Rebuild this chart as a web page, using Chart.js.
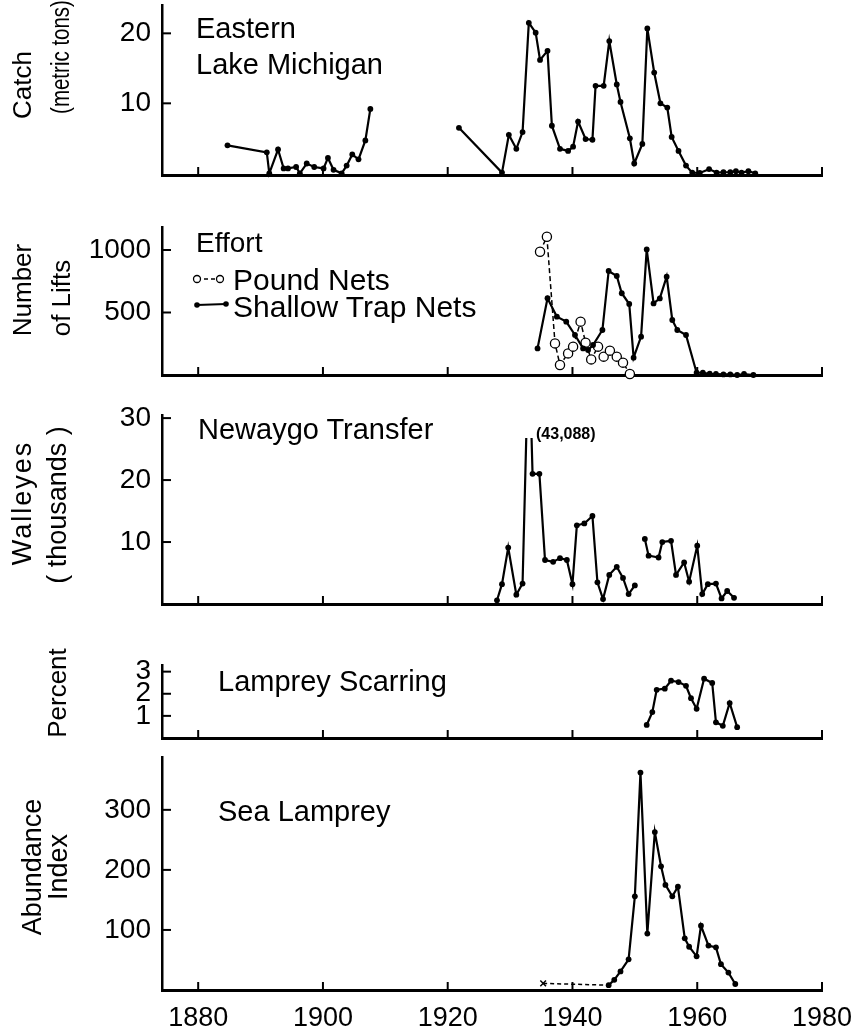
<!DOCTYPE html>
<html>
<head>
<meta charset="utf-8">
<title>Lake Michigan walleye and sea lamprey</title>
<script src="https://cdn.jsdelivr.net/npm/chart.js@4.4.1/dist/chart.umd.min.js"></script>
<style>
  body { margin: 0; background: #fff; width: 859px; height: 1033px; position: relative; overflow: hidden;
         font-family: 'Liberation Sans', Arial, sans-serif; color: #000; }
  canvas { position: absolute; left: 0; }
  .txt { position: absolute; white-space: nowrap; line-height: 1; }
  .rot { position: absolute; white-space: nowrap; line-height: 1; font-size: 26px;
         transform: translate(-50%, -50%) rotate(-90deg); }
</style>
</head>
<body>
<canvas id="catchChart" width="859" height="198" style="top:-15px"></canvas>
<canvas id="effortChart" width="859" height="176" style="top:207px"></canvas>
<canvas id="walleyeChart" width="859" height="217" style="top:395px"></canvas>
<canvas id="scarChart" width="859" height="101" style="top:645px"></canvas>
<canvas id="lampreyChart" width="859" height="296" style="top:737px"></canvas>

<!-- axis titles -->
<div class="rot" style="left:22px;top:85px">Catch</div>
<div class="rot" style="left:60px;top:57px;font-size:25px;transform:translate(-50%,-50%) rotate(-90deg) scaleX(0.82)">(metric tons)</div>
<div class="rot" style="left:22px;top:290px">Number</div>
<div class="rot" style="left:61px;top:298px">of Lifts</div>
<div class="rot" style="left:22px;top:503px;font-size:27px;letter-spacing:2px">Walleyes</div>
<div class="rot" style="left:57px;top:505px;font-size:27px">( thousands )</div>
<div class="rot" style="left:57px;top:693px">Percent</div>
<div class="rot" style="left:32px;top:867px;font-size:27px">Abundance</div>
<div class="rot" style="left:58px;top:867px;font-size:27px">Index</div>

<!-- panel labels -->
<div class="txt" style="left:196px;top:14px;font-size:29px">Eastern</div>
<div class="txt" style="left:196px;top:50px;font-size:29px">Lake Michigan</div>
<div class="txt" style="left:196px;top:229px;font-size:28px">Effort</div>
<div class="txt" style="left:233px;top:265px;font-size:30px">Pound Nets</div>
<div class="txt" style="left:233px;top:292px;font-size:30px">Shallow Trap Nets</div>
<svg style="position:absolute;left:188px;top:268px" width="46" height="46">
  <line x1="9" y1="11" x2="32" y2="11" stroke="#000" stroke-width="1.5" stroke-dasharray="4,3"/>
  <circle cx="9" cy="11" r="3.5" fill="#fff" stroke="#000" stroke-width="1.3"/>
  <circle cx="32" cy="11" r="3.5" fill="#fff" stroke="#000" stroke-width="1.3"/>
  <line x1="9" y1="37" x2="38" y2="36" stroke="#000" stroke-width="2.2"/>
  <circle cx="9" cy="37" r="2.8" fill="#000"/>
  <circle cx="38" cy="36" r="2.8" fill="#000"/>
</svg>
<div class="txt" style="left:198px;top:415px;font-size:29px">Newaygo Transfer</div>
<div class="txt" style="left:536px;top:426px;font-size:16px;font-weight:bold">(43,088)</div>
<div class="txt" style="left:218px;top:667px;font-size:29px">Lamprey Scarring</div>
<div class="txt" style="left:218px;top:797px;font-size:29px">Sea Lamprey</div>

<script>
// shared x axis (years)
const xMin = 1874.2, xMax = 1980;
const yearTicks = [1880, 1900, 1920, 1940, 1960, 1980];

// Catch, eastern Lake Michigan (metric tons)
const catchYears = [1884.7, 1891.0, 1891.4, 1892.8, 1893.7, 1894.4, 1895.7, 1896.3, 1897.4, 1898.6, 1900.1,
  1900.8, 1901.7, 1903.0, 1903.8, 1904.7, 1905.7, 1906.8, 1907.6, 1915,
  1921.8, 1928.7, 1929.8, 1931.0, 1932.0, 1933.0, 1934.1, 1934.8, 1936.0, 1936.7, 1938.0, 1939.3, 1940.1,
  1940.9, 1942.1, 1943.2, 1943.7, 1945.0, 1945.9, 1947.1, 1947.7, 1949.2, 1949.9, 1951.2, 1952.0, 1953.1,
  1954.1, 1955.2, 1955.9, 1957.0, 1958.2, 1959.2, 1960.4, 1961.9, 1963.1, 1964.2, 1965.3, 1966.2, 1967.1,
  1968.2, 1969.3];
const catchValues = [4.0, 3.0, 0.0, 3.4, 0.7, 0.7, 0.9, 0.0, 1.4, 0.9, 0.7,
  2.2, 0.5, 0.0, 1.1, 2.7, 2.0, 4.7, 9.2, null,
  6.5, 0.1, 5.5, 3.5, 5.9, 21.5, 20.1, 16.2, 17.5, 6.8, 3.5, 3.2, 3.8,
  7.4, 4.9, 4.8, 12.5, 12.5, 18.9, 12.7, 10.2, 5.0, 1.4, 4.2, 20.7, 14.4,
  10.0, 9.4, 5.2, 3.2, 1.1, 0.1, 0.05, 0.6, 0.1, 0.15, 0.15, 0.3, 0.1,
  0.3, 0.0];
const catchTicks = [10, 20];

// Effort (number of lifts)
const poundYears = [1934.8, 1935.9, 1937.2, 1938.0, 1939.3, 1940.1, 1941.3, 1942.1, 1943.0, 1944.1, 1945.0,
  1946.0, 1947.1, 1948.1, 1949.2];
const poundValues = [986, 1106, 253, 80, 173, 227, 427, 259, 125, 227, 147, 195, 147, 99, 8];
const trapYears = [1934.4, 1936.0, 1937.5, 1939.0, 1940.4, 1941.7, 1942.5, 1943.3, 1944.8, 1945.8, 1947.1,
  1947.9, 1949.1, 1949.8, 1951.0, 1951.9, 1953.0, 1954.0, 1955.1, 1956.0, 1956.8, 1958.2, 1959.9, 1960.9,
  1962.0, 1963.0, 1964.2, 1965.3, 1966.4, 1967.5, 1969.0];
const trapValues = [213, 614, 467, 427, 320, 213, 200, 240, 360, 832, 792,
  654, 568, 139, 307, 1005, 573, 613, 787, 440, 360, 320, 18, 18,
  10, 8, 5, 5, 0, 8, 0];
const effortTicks = [500, 1000];

// Newaygo transfer (walleyes, thousands); 1933 is off scale (43,088)
const walleyeYears = [1927.9, 1928.7, 1929.7, 1931.0, 1932.0, 1933.0, 1933.6, 1934.7, 1935.6, 1936.9, 1938.0,
  1939.1, 1940.0, 1940.7, 1941.9, 1943.2, 1944.0, 1944.9, 1945.9, 1947.1, 1948.1, 1949.0, 1950.0, 1951,
  1951.6, 1952.2, 1953.8, 1954.4, 1955.8, 1956.6, 1957.9, 1958.7, 1960.0, 1960.8, 1961.7, 1963.0, 1963.9,
  1964.8, 1965.9];
const walleyeValues = [0.6, 3.2, 9.1, 1.5, 3.3, 43.088, 21.0, 21.0, 7.1, 6.8, 7.4,
  7.1, 3.2, 12.7, 13.0, 14.2, 3.5, 0.8, 4.7, 6.0, 4.2, 1.6, 3.0, null,
  10.5, 7.8, 7.5, 10.0, 10.2, 4.7, 6.7, 3.6, 9.4, 1.6, 3.2, 3.3, 0.9,
  2.1, 1.0];
const walleyeTicks = [10, 20, 30];

// Lamprey scarring (percent)
const scarYears = [1951.9, 1952.8, 1953.5, 1954.8, 1955.8, 1957.0, 1958.2, 1959.0, 1959.9, 1961.1, 1962.4,
  1963.0, 1964.1, 1965.2, 1966.4];
const scarValues = [0.59, 1.17, 2.18, 2.23, 2.59, 2.53, 2.36, 1.8, 1.32, 2.68, 2.49, 0.71, 0.55, 1.58, 0.49];
const scarTicks = [1, 2, 3];

// Sea lamprey abundance index
const lowYears = [1935.3, 1945.8];
const lowValues = [11, 8];
const lampreyYears = [1945.8, 1946.7, 1947.7, 1949.0, 1950.0, 1950.9, 1952.0, 1953.2, 1954.2, 1954.9, 1956.0,
  1956.9, 1958.0, 1958.7, 1959.9, 1960.6, 1961.8, 1963.0, 1963.8, 1965.0, 1966.1];
const lampreyValues = [8, 17, 31, 51, 156, 362, 94, 263, 206, 175, 156,
  172, 86, 72, 56, 107, 74, 71, 43, 29, 10];
const lampreyTicks = [100, 200, 300];

Chart.defaults.font.family = "'Liberation Sans', Arial, sans-serif";
Chart.defaults.color = '#000';

// short tick marks drawn inward from the axes
const innerTicks = {
    id: 'innerTicks',
    afterDatasetsDraw(chart, args, opts) {
        const { ctx, chartArea, scales } = chart;
        ctx.save();
        ctx.strokeStyle = '#000';
        ctx.lineWidth = 2;
        yearTicks.forEach(v => {
            const px = scales.x.getPixelForValue(v);
            ctx.beginPath();
            ctx.moveTo(px, chartArea.bottom);
            ctx.lineTo(px, chartArea.bottom - 8);
            ctx.stroke();
        });
        (opts.y || []).forEach(v => {
            const py = scales.y.getPixelForValue(v);
            ctx.beginPath();
            ctx.moveTo(chartArea.left, py);
            ctx.lineTo(chartArea.left + 9, py);
            ctx.stroke();
        });
        ctx.restore();
    }
};

function pts(xs, ys) {
    return xs.map((x, i) => ({ x: x, y: ys[i] }));
}

function solidLine(xs, ys) {
    return {
        data: pts(xs, ys),
        borderColor: '#000',
        borderWidth: 2.2,
        pointRadius: 2.9,
        pointBackgroundColor: '#000',
        pointBorderWidth: 0,
        spanGaps: false,
        clip: { left: 10, right: 10, top: 10, bottom: 10 }
    };
}

function makePanel(id, datasets, yMin, yMax, yTicks, showYears) {
    const axisH = showYears ? 43 : 8;
    new Chart(document.getElementById(id), {
        type: 'line',
        data: { datasets: datasets },
        plugins: [innerTicks],
        options: {
            responsive: false,
            animation: false,
            events: [],
            layout: { padding: { top: 20, right: 37, left: 0, bottom: 0 } },
            plugins: { legend: { display: false }, tooltip: { enabled: false }, innerTicks: { y: yTicks } },
            scales: {
                x: {
                    type: 'linear', min: xMin, max: xMax,
                    afterBuildTicks: s => { s.ticks = yearTicks.map(v => ({ value: v })); },
                    afterFit: s => { s.height = axisH; s.paddingLeft = 0; s.paddingRight = 0; },
                    grid: { display: true, drawOnChartArea: false, drawTicks: false },
                    border: { display: true, color: '#000', width: 3 },
                    ticks: { display: showYears, padding: 12, maxRotation: 0, autoSkip: false,
                             font: { size: 27 }, callback: v => String(v) }
                },
                y: {
                    min: yMin, max: yMax,
                    afterBuildTicks: s => { s.ticks = yTicks.map(v => ({ value: v })); },
                    afterFit: s => { s.width = 162; s.paddingTop = 0; s.paddingBottom = 0; },
                    grid: { display: true, drawOnChartArea: false, drawTicks: false },
                    border: { display: true, color: '#000', width: 2.5 },
                    ticks: { padding: 11, autoSkip: false, font: { size: 28 }, callback: v => String(v) }
                }
            }
        }
    });
}

makePanel('catchChart', [solidLine(catchYears, catchValues)], -0.24, 24.05, catchTicks, false);

const pound = solidLine(poundYears, poundValues);
pound.borderWidth = 1.5;
pound.borderDash = [5, 3];
pound.pointRadius = 4.6;
pound.pointBackgroundColor = '#fff';
pound.pointBorderColor = '#000';
pound.pointBorderWidth = 1.3;
makePanel('effortChart', [solidLine(trapYears, trapValues), pound], 0, 1184, effortTicks, false);

const walleye = solidLine(walleyeYears, walleyeValues);
walleye.clip = { left: 10, right: 10, top: -23, bottom: 10 };
makePanel('walleyeChart', [walleye], 0, 30.5, walleyeTicks, false);

makePanel('scarChart', [solidLine(scarYears, scarValues)], 0, 3.3, scarTicks, false);

const low = solidLine(lowYears, lowValues);
low.borderWidth = 1.5;
low.borderDash = [4, 3];
low.pointStyle = 'crossRot';
low.pointRadius = [4, 0];
low.pointBorderColor = '#000';
low.pointBorderWidth = 1.5;
makePanel('lampreyChart', [low, solidLine(lampreyYears, lampreyValues)], 0, 388, lampreyTicks, true);
</script>
</body>
</html>
